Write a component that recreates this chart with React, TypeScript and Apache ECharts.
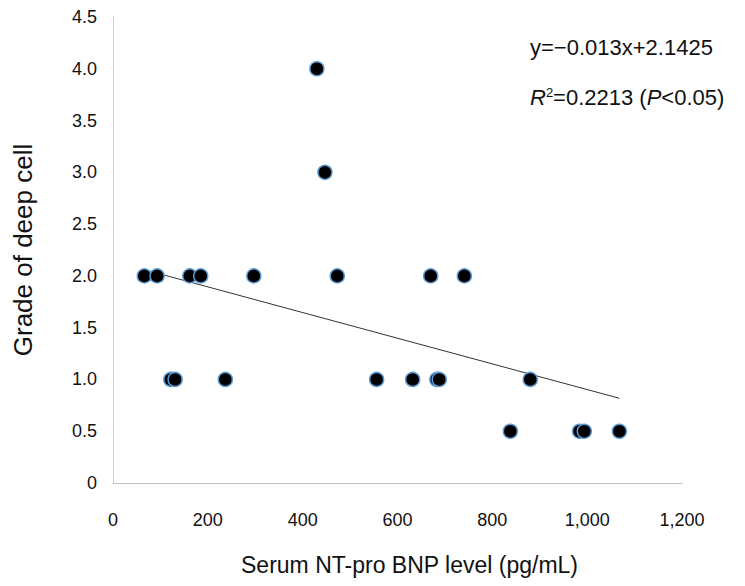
import React, { useEffect, useRef } from "react";
import * as echarts from "echarts";

const xGrade2 = [66, 93, 162, 185, 297, 473, 670, 741];
const xGrade4 = [430];
const xGrade3 = [447];
const xGrade1 = [122, 131, 237, 556, 632, 683, 688, 880];
const xGrade05 = [838, 984, 994, 1068];
const trendX = [66, 1068];
const trendY = [2.06, 0.818];
const equationText = "y=\u22120.013x+2.1425";
const xAxisTitle = "Serum NT-pro BNP level (pg/mL)";
const yAxisTitle = "Grade of deep cell";

const FONT = "'Liberation Sans', Arial, sans-serif";

export default function App() {
  const ref = useRef<HTMLDivElement>(null);
  useEffect(() => {
    if (!ref.current) return;
    const chart = echarts.init(ref.current, undefined, { renderer: "svg" });
    const pts: number[][] = [];
    xGrade2.forEach((x) => pts.push([x, 2.0]));
    xGrade4.forEach((x) => pts.push([x, 4.0]));
    xGrade3.forEach((x) => pts.push([x, 3.0]));
    xGrade1.forEach((x) => pts.push([x, 1.0]));
    xGrade05.forEach((x) => pts.push([x, 0.5]));
    const trend = trendX.map((x, i) => [x, trendY[i]]);
    chart.setOption({
      animation: false,
      backgroundColor: "#ffffff",
      grid: { left: 113, right: 63, top: 17, bottom: 103 },
      xAxis: {
        type: "value",
        min: 0,
        max: 1200,
        interval: 200,
        name: xAxisTitle,
        nameLocation: "middle",
        nameGap: 70,
        nameTextStyle: { fontFamily: FONT, fontSize: 23, color: "#111", padding: [0, 0, 0, 24] },
        axisLine: { show: true, lineStyle: { color: "#bfbfbf", width: 1 } },
        axisTick: { show: false },
        splitLine: { show: false },
        axisLabel: {
          margin: 28,
          fontFamily: FONT,
          fontSize: 18,
          color: "#111",
          formatter: (v: number) => v.toLocaleString("en-US"),
        },
      },
      yAxis: {
        type: "value",
        min: 0,
        max: 4.5,
        interval: 0.5,
        name: yAxisTitle,
        nameLocation: "middle",
        nameGap: 77,
        nameRotate: 90,
        nameTextStyle: { fontFamily: FONT, fontSize: 26, color: "#111" },
        axisLine: { show: true, lineStyle: { color: "#d0d0d0", width: 1 } },
        axisTick: { show: false },
        splitLine: { show: false },
        axisLabel: {
          margin: 16,
          fontFamily: FONT,
          fontSize: 18,
          color: "#111",
          formatter: (v: number) => (v === 0 ? "0" : v.toFixed(1)),
        },
      },
      series: [
        {
          type: "line",
          data: trend,
          symbol: "none",
          lineStyle: { color: "#333", width: 1 },
          z: 1,
        },
        {
          type: "scatter",
          data: pts,
          symbol: "circle",
          symbolSize: 14,
          itemStyle: { color: "#000", opacity: 1, borderColor: "#5B9BD5", borderWidth: 1.5 },
          z: 3,
        },
      ],
      graphic: [
        {
          type: "text",
          left: 530,
          top: 36,
          style: { text: equationText, fontFamily: FONT, fontSize: 22, fill: "#111" },
        },
        {
          type: "text",
          left: 530,
          top: 86,
          style: {
            text: "{i|R}{s|2}{n|=0.2213 (}{i|P}{n|<0.05)}",
            rich: {
              i: { fontFamily: FONT, fontSize: 22, fontStyle: "italic", fill: "#111" },
              s: { fontFamily: FONT, fontSize: 13, fill: "#111", verticalAlign: "top", padding: [0, 0, 8, 0] },
              n: { fontFamily: FONT, fontSize: 22, fill: "#111" },
            },
          },
        },
      ],
    });
    return () => chart.dispose();
  }, []);
  return <div ref={ref} style={{ width: 745, height: 586, position: "absolute", left: 0, top: 0 }} />;
}
